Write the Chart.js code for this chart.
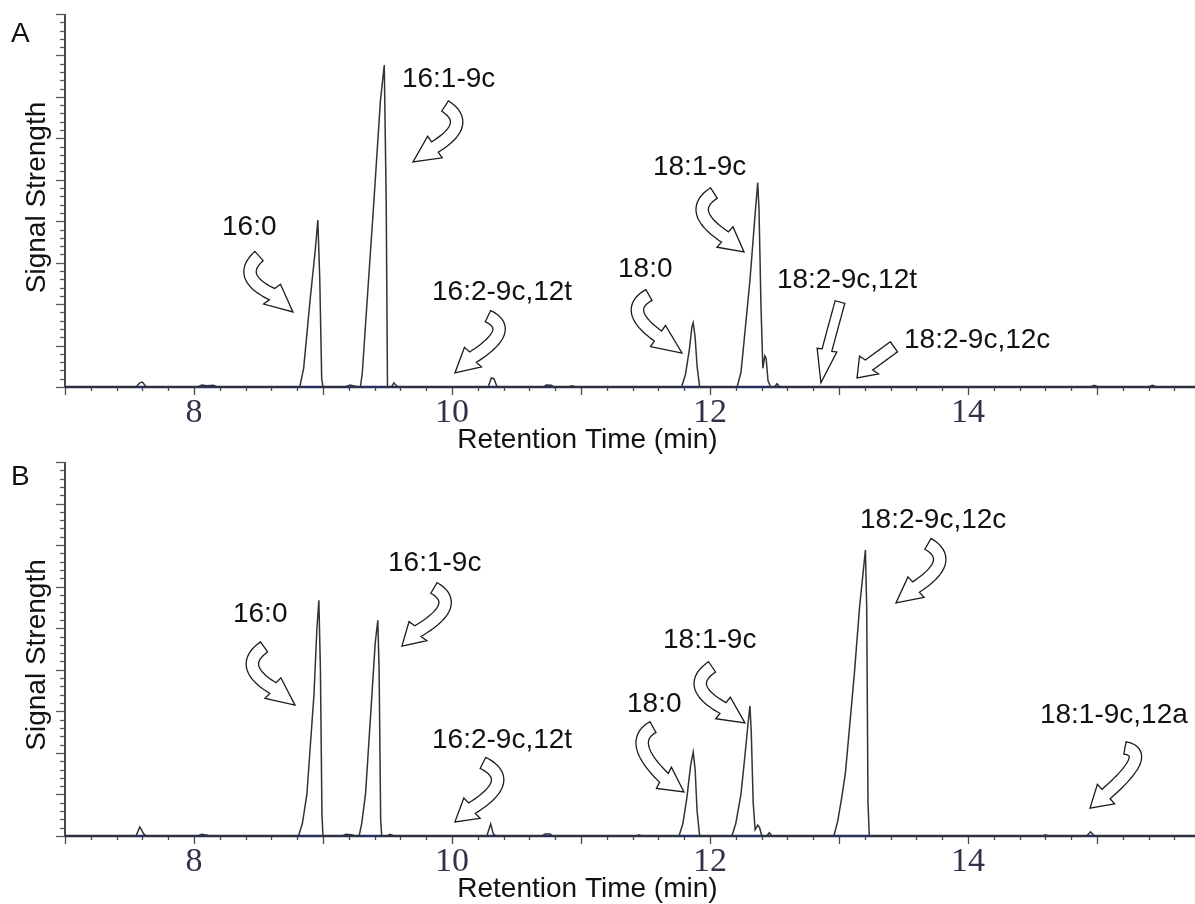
<!DOCTYPE html>
<html>
<head>
<meta charset="utf-8">
<script src="https://cdn.jsdelivr.net/npm/chart.js@4.4.1/dist/chart.umd.min.js"></script>
<style>
html,body{margin:0;padding:0;background:#fff;}
#wrap{position:relative;width:1195px;height:904px;overflow:hidden;background:#fff;}
canvas{position:absolute;left:0;}
</style>
</head>
<body>
<div id="wrap">
<canvas id="cA" width="1195" height="462" style="top:0px"></canvas>
<canvas id="cB" width="1195" height="456" style="top:448px"></canvas>
</div>
<script>
// ---------- axes ----------
const timeMin = 7, timeMax = 15.76;
const signalMin = 0, signalMax = 9;
const xTickLabels = [8, 10, 12, 14];
const xTitle = 'Retention Time (min)';
const yTitle = 'Signal Strength';

// ---------- chromatogram A: [retention time (min), signal] ----------
const traceA = [
  [7.00,0],[7.55,0],[7.58,0.10],[7.60,0.12],[7.63,0],
  [8.03,0],[8.06,0.05],[8.10,0.03],[8.15,0.04],[8.18,0],
  [8.82,0],[8.85,0.45],[8.90,2.1],[8.94,3.3],[8.96,4.03],[8.975,2.6],[8.99,0.2],[9.00,0],
  [9.17,0],[9.21,0.05],[9.25,0.02],
  [9.29,0],[9.305,0.35],[9.325,1.29],[9.395,4.5],[9.445,6.9],[9.475,7.77],[9.49,4.5],[9.50,0],
  [9.53,0],[9.55,0.10],[9.58,0],
  [10.28,0],[10.305,0.22],[10.325,0.20],[10.35,0],
  [10.71,0],[10.73,0.05],[10.77,0.04],[10.79,0],
  [10.90,0],[10.93,0.03],[10.96,0],
  [11.78,0],[11.81,0.3],[11.84,0.9],[11.86,1.45],[11.87,1.55],[11.885,1.2],[11.90,0.5],[11.92,0],
  [12.21,0],[12.24,0.35],[12.26,0.97],[12.31,2.58],[12.35,4.17],[12.37,4.93],[12.38,4.3],[12.395,2.0],
  [12.41,0.45],[12.425,0.75],[12.435,0.7],[12.45,0.15],[12.47,0],
  [12.50,0],[12.52,0.08],[12.54,0],
  [14.95,0],[14.98,0.04],[15.01,0],
  [15.40,0],[15.43,0.04],[15.46,0],
  [15.76,0]
];

// ---------- chromatogram B ----------
const traceB = [
  [7.00,0],[7.55,0],[7.58,0.22],[7.61,0.05],[7.63,0],
  [8.03,0],[8.06,0.04],[8.10,0.02],[8.13,0],
  [8.81,0],[8.84,0.3],[8.875,1.0],[8.93,3.4],[8.953,5.0],[8.968,5.67],[8.98,4.0],[8.992,0.5],[9.00,0],
  [9.15,0],[9.18,0.04],[9.22,0.03],[9.25,0],
  [9.28,0],[9.30,0.3],[9.33,1.02],[9.38,3.43],[9.405,4.65],[9.425,5.19],[9.435,4.0],[9.447,0.4],[9.455,0],
  [9.50,0],[9.52,0.04],[9.55,0],
  [10.27,0],[10.30,0.29],[10.32,0.05],[10.34,0],
  [10.70,0],[10.72,0.05],[10.76,0.05],[10.78,0],
  [11.43,0],[11.45,0.03],[11.47,0],
  [11.76,0],[11.79,0.3],[11.82,0.9],[11.85,1.7],[11.87,2.02],[11.885,1.6],[11.90,0.6],[11.92,0],
  [12.17,0],[12.20,0.3],[12.24,1.0],[12.27,1.9],[12.295,2.7],[12.31,3.13],[12.32,2.5],[12.335,0.8],
  [12.35,0.15],[12.37,0.26],[12.385,0.2],[12.40,0.02],[12.42,0],
  [12.44,0],[12.46,0.08],[12.48,0],
  [12.96,0],[12.99,0.35],[13.02,0.9],[13.05,1.52],[13.12,3.93],[13.16,5.52],[13.205,6.88],[13.215,5.5],[13.225,0.8],[13.235,0],
  [14.58,0],[14.60,0.03],[14.62,0],
  [14.92,0],[14.95,0.10],[14.98,0],
  [15.76,0]
];

// ---------- peak labels (text, left edge time, centre signal) ----------
const labelsA = ['16:0','16:1-9c','16:2-9c,12t','18:0','18:1-9c','18:2-9c,12t','18:2-9c,12c'];
const labelAtA = [[8.217,3.91],[9.612,7.48],[9.845,2.34],[11.287,2.90],[11.558,5.36],[12.519,2.64],[13.504,1.18]];
const labelsB = ['16:0','16:1-9c','16:2-9c,12t','18:0','18:1-9c','18:2-9c,12c','18:1-9c,12a'];
const labelAtB = [[8.302,5.38],[9.504,6.62],[9.845,2.37],[11.357,3.23],[11.636,4.76],[13.163,7.65],[14.558,2.96]];

// ---------- hollow arrows: tail, bend, head base, tip ----------
const arrowsA = [
  [[8.504,3.16],[8.440,2.68],[8.605,2.24],[8.767,1.81]],
  [[9.946,6.78],[10.033,6.32],[9.868,5.79],[9.698,5.43]],
  [[10.279,1.71],[10.359,1.30],[10.163,0.72],[10.023,0.34]],
  [[11.527,2.22],[11.440,1.79],[11.597,1.23],[11.783,0.82]],
  [[12.031,4.68],[11.943,4.20],[12.116,3.62],[12.264,3.26]],
  [[13.008,2.05],[12.957,1.47],[12.907,0.89],[12.860,0.10]],
  [[13.426,0.97],[13.329,0.75],[13.233,0.53],[13.140,0.22]]
];
const arrowsB = [
  [[8.543,4.55],[8.455,4.07],[8.612,3.56],[8.783,3.15]],
  [[9.860,5.97],[9.940,5.51],[9.736,4.93],[9.612,4.57]],
  [[10.240,1.76],[10.351,1.28],[10.155,0.67],[10.023,0.34]],
  [[11.558,2.62],[11.478,2.14],[11.643,1.40],[11.798,1.06]],
  [[12.016,4.07],[11.928,3.59],[12.101,3.08],[12.271,2.72]],
  [[13.690,7.03],[13.777,6.57],[13.597,5.99],[13.442,5.61]],
  [[15.217,2.12],[15.289,1.78],[15.070,1.01],[14.946,0.67]]
];

const panels = {
  A: {letter:'A', trace:traceA, labels:labelsA, labelAt:labelAtA, arrows:arrowsA,
      letterDy:28, yTitleDy:-3, narrowArrow:5},
  B: {letter:'B', trace:traceB, labels:labelsB, labelAt:labelAtB, arrows:arrowsB,
      letterDy:23, yTitleDy:6, narrowArrow:-1}
};

const SANS = '"Liberation Sans", Arial, Helvetica, sans-serif';
const SERIF = '"Liberation Serif", "Times New Roman", serif';

function drawArrow(ctx, pts, hw, hh) {
  const [T, M, B, H] = pts;
  const C = [2*M[0] - (T[0]+B[0])/2, 2*M[1] - (T[1]+B[1])/2];
  const N = 28, L = [], R = [];
  for (let i = 0; i <= N; i++) {
    const u = i / N, v = 1 - u;
    const x = v*v*T[0] + 2*v*u*C[0] + u*u*B[0];
    const y = v*v*T[1] + 2*v*u*C[1] + u*u*B[1];
    const dx = 2*v*(C[0]-T[0]) + 2*u*(B[0]-C[0]);
    const dy = 2*v*(C[1]-T[1]) + 2*u*(B[1]-C[1]);
    const len = Math.hypot(dx, dy) || 1;
    const nx = -dy/len, ny = dx/len;
    L.push([x + nx*hw, y + ny*hw]);
    R.push([x - nx*hw, y - ny*hw]);
  }
  const dx = H[0]-B[0], dy = H[1]-B[1], len = Math.hypot(dx, dy) || 1;
  const nx = -dy/len, ny = dx/len;
  ctx.beginPath();
  ctx.moveTo(L[0][0], L[0][1]);
  for (let i = 1; i < L.length; i++) ctx.lineTo(L[i][0], L[i][1]);
  ctx.lineTo(B[0] + nx*hh, B[1] + ny*hh);
  ctx.lineTo(H[0], H[1]);
  ctx.lineTo(B[0] - nx*hh, B[1] - ny*hh);
  for (let i = R.length - 1; i >= 0; i--) ctx.lineTo(R[i][0], R[i][1]);
  ctx.closePath();
  ctx.fillStyle = '#ffffff';
  ctx.fill();
  ctx.lineWidth = 1.3;
  ctx.strokeStyle = '#1a1a1a';
  ctx.lineJoin = 'miter';
  ctx.stroke();
}

const decorPlugin = {
  id: 'decor',
  beforeDatasetsDraw(chart, args, opts) {
    const ctx = chart.ctx, ca = chart.chartArea, xs = chart.scales.x, ys = chart.scales.y;
    ctx.save();
    ctx.strokeStyle = '#5a5a5a';
    ctx.lineWidth = 1.3;
    for (let k = 0; k <= 45; k++) {
      const yp = Math.round(ys.getPixelForValue(k * 0.2)) + 0.5;
      const len = (k % 5 === 0) ? 9 : 5;
      ctx.beginPath(); ctx.moveTo(ca.left - len, yp); ctx.lineTo(ca.left, yp); ctx.stroke();
    }
    ctx.strokeStyle = '#4a4a4a';
    ctx.lineWidth = 2;
    ctx.beginPath(); ctx.moveTo(ca.left, ca.top); ctx.lineTo(ca.left, ca.bottom); ctx.stroke();
    ctx.strokeStyle = '#4a4a4a';
    ctx.lineWidth = 1.3;
    for (let k = 0; k < 60; k++) {
      const v = timeMin + k * 0.2;
      if (v > xs.max + 1e-6) break;
      const xp = Math.round(xs.getPixelForValue(v)) + 0.5;
      const len = (k % 5 === 0) ? 8 : 4;
      ctx.beginPath(); ctx.moveTo(xp, ca.bottom); ctx.lineTo(xp, ca.bottom + len); ctx.stroke();
    }
    ctx.strokeStyle = '#27305e';
    ctx.lineWidth = 2.5;
    ctx.beginPath(); ctx.moveTo(ca.left, ca.bottom); ctx.lineTo(ca.right, ca.bottom); ctx.stroke();
    ctx.restore();
  },
  afterDatasetsDraw(chart, args, opts) {
    const p = panels[opts.panel];
    const ctx = chart.ctx, ca = chart.chartArea, xs = chart.scales.x, ys = chart.scales.y;
    ctx.save();
    ctx.fillStyle = '#35304a';
    ctx.font = '34px ' + SERIF;
    ctx.textAlign = 'center';
    ctx.textBaseline = 'alphabetic';
    xTickLabels.forEach(v => ctx.fillText(String(v), xs.getPixelForValue(v), ca.bottom + 35));
    ctx.fillStyle = '#111';
    ctx.font = '28px ' + SANS;
    ctx.fillText(xTitle, xs.getPixelForValue(11.05), ca.bottom + 61);
    ctx.save();
    ctx.translate(45, (ca.top + ca.bottom) / 2 + p.yTitleDy);
    ctx.rotate(-Math.PI / 2);
    ctx.textAlign = 'center';
    ctx.fillText(yTitle, 0, 0);
    ctx.restore();
    ctx.textAlign = 'left';
    ctx.font = '28px ' + SANS;
    ctx.fillText(p.letter, 11, p.letterDy + ca.top);
    p.arrows.forEach((a, i) => {
      const pts = a.map(q => [xs.getPixelForValue(q[0]), ys.getPixelForValue(q[1])]);
      const narrow = (i === p.narrowArrow);
      drawArrow(ctx, pts, narrow ? 5 : 6.2, narrow ? 10 : 13);
    });
    ctx.fillStyle = '#111';
    ctx.font = '28px ' + SANS;
    ctx.textAlign = 'left';
    p.labels.forEach((t, i) => {
      const [lt, ls] = p.labelAt[i];
      ctx.fillText(t, xs.getPixelForValue(lt), ys.getPixelForValue(ls) + 10);
    });
    ctx.restore();
  }
};

function makeChart(id, key, padBottom) {
  const tr = panels[key].trace;
  return new Chart(document.getElementById(id), {
    type: 'line',
    data: {
      datasets: [{
        data: tr.map(q => ({x: q[0], y: q[1]})),
        borderColor: '#333333',
        borderWidth: 1.5,
        pointRadius: 0,
        tension: 0,
        fill: false,
        clip: false
      }]
    },
    options: {
      responsive: false,
      animation: false,
      events: [],
      layout: {padding: {left: 65, top: 14, right: 0, bottom: padBottom}},
      plugins: {legend: {display: false}, tooltip: {enabled: false}, decor: {panel: key}},
      scales: {
        x: {type: 'linear', display: false, min: timeMin, max: timeMax},
        y: {type: 'linear', display: false, min: signalMin, max: signalMax}
      }
    },
    plugins: [decorPlugin]
  });
}

makeChart('cA', 'A', 462 - 387);
makeChart('cB', 'B', 456 - 388);
</script>
</body>
</html>
